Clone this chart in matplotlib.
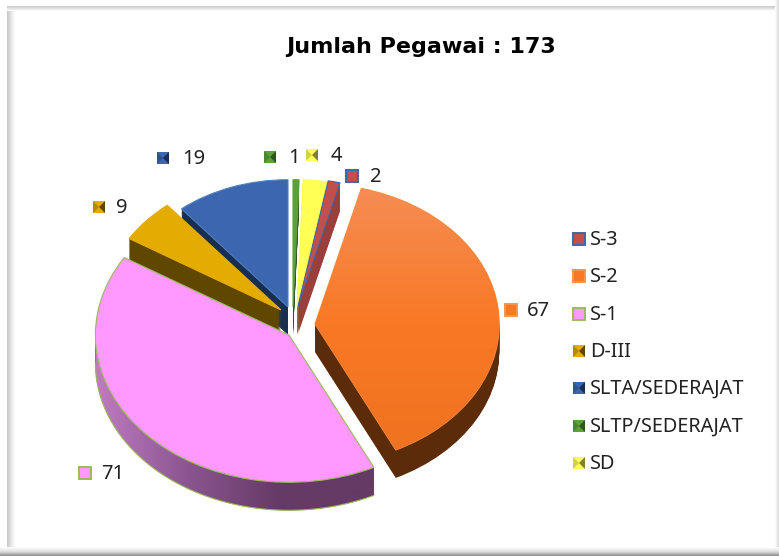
import numpy as np
import matplotlib
matplotlib.use("Agg")
import matplotlib.pyplot as plt
from matplotlib.colors import LinearSegmentedColormap
from matplotlib.patches import Polygon, Rectangle

categories = ["S-3", "S-2", "S-1", "D-III", "SLTA/SEDERAJAT", "SLTP/SEDERAJAT", "SD"]
values = [2, 67, 71, 9, 19, 1, 4]
title = "Jumlah Pegawai : 173"

# looks
top_colors = ["#C0504D", "#F97825", "#FF99FF", "#E5AC00", "#3C67B0", "#5DA03A", "#FFFF55"]
wall_colors = ["#9A3F3C", "#5C2C0A", "#653A65", "#5F4700", "#172E50", "#2E5520", "#808030"]
edge_colors = ["#3F66A8", "#F79646", "#9BBB59", "#E5AC00", "#4F81BD", "#5DA03A", "#FFFF55"]
key_darks = [None, None, None, "#5F4700", "#172E50", "#2E5520", "#808030"]
stack_order = [6, 7, 3, 2, 1, 4, 5]  # blue < gold < pink, green < yellow < red

# the 3d look squeezes the back slices, so each slice gets its own spot (pixels)
slice_cx = [298, 315, 289, 281, 288, 293, 297]
slice_cy = [306, 324, 335, 310, 307, 307, 307]
slice_r = [0.89, 0.98, 1.03, 0.95, 0.89, 0.89, 0.89]

# label spots in pixels
label_keys = [(352, 176), (511, 310), (85, 473), (99, 207), (163, 158), (270, 157), (312, 155)]
label_gap = [18, 16, 16, 17, 19, 18, 19]
legend_x = 579
legend_y = [239, 276, 314, 351, 388, 426, 463]

W, H = 779, 556
RX, RY = 188, 143
DEPTH = 28


def place(w, i, k=0):
    w.set_center((slice_cx[i] / RX, -(slice_cy[i] + k) / RY))
    w.set_radius(slice_r[i])
    w.set_zorder(stack_order[i] * 10 + (2 if k == 0 else 0))


plt.rcParams["font.family"] = ["Noto Sans", "DejaVu Sans"]
fig = plt.figure(figsize=(W / 100, H / 100), dpi=100, facecolor="white")
ax = fig.add_axes([0, 0, 1, 1])

start = 90 - (values[5] + values[6]) / sum(values) * 360

# walls: stack of pies pushed downwards
for k in range(DEPTH, 0, -1):
    parts, _ = ax.pie(values, startangle=start, counterclock=False, colors=wall_colors)
    for i, w in enumerate(parts):
        place(w, i, k)

tops, _ = ax.pie(values, startangle=start, counterclock=False, colors=top_colors,
                 wedgeprops={"linewidth": 0.8})
for i, w in enumerate(tops):
    w.set_edgecolor(edge_colors[i])
    place(w, i)

# S-1 outer wall shading
pink = tops[2]
t = np.radians(np.linspace(180, 296, 80))
xs = pink.center[0] + pink.r * np.cos(t)
ys = pink.center[1] + pink.r * np.sin(t)
wall_poly = Polygon(np.r_[np.c_[xs, ys], np.c_[xs, ys - DEPTH / RY][::-1]], closed=True,
                    transform=ax.transData, facecolor="none", edgecolor="none")
ax.add_patch(wall_poly)
cm_wall = LinearSegmentedColormap.from_list("w", ["#C07CC0", "#8A5590", "#653A65", "#653A65"])
im = ax.imshow(np.linspace(0, 1, 256)[None, :], cmap=cm_wall, aspect="auto",
               extent=(xs.min(), xs.max(), -4, 0), zorder=stack_order[2] * 10 + 1)
im.set_clip_path(wall_poly)
ax.plot(xs, ys - DEPTH / RY, color="#9BBB59", lw=0.8, zorder=stack_order[2] * 10 + 1)

# S-2 top shading
org = tops[1]
cm_top = LinearSegmentedColormap.from_list("o", ["#EE7220", "#F97825", "#F58E56"])
im2 = ax.imshow(np.linspace(0, 1, 256)[:, None], cmap=cm_top, aspect="auto", origin="lower",
                extent=(org.center[0], org.center[0] + 1.3, org.center[1] - 1, org.center[1] + 1),
                zorder=stack_order[1] * 10 + 3)
im2.set_clip_path(org)

ax.set_aspect("auto")
ax.set_xlim(0, W / RX)
ax.set_ylim(-H / RY, 0)
ax.axis("off")

# overlay in pixel units for frame, labels and legend
ov = fig.add_axes([0, 0, 1, 1], zorder=5)
ov.axis("off")
ov.patch.set_visible(False)

# soft picture frame
fade = np.linspace(0, 1, 32)
cm_l = LinearSegmentedColormap.from_list("l", ["#C8C8C8", "#FFFFFF"])
cm_b = LinearSegmentedColormap.from_list("b", ["#FFFFFF", "#E0E0E0", "#8E8E8E"])
cm_r = LinearSegmentedColormap.from_list("r", ["#FFFFFF", "#D8D8D8"])
ov.imshow(fade[None, :], cmap=cm_l, aspect="auto", extent=(7, 15, H - 6, 6))
ov.imshow(fade[:, None], cmap=cm_l, aspect="auto", origin="upper", extent=(7, W - 4, 11, 6))
ov.imshow(fade[None, :], cmap=cm_r, aspect="auto", extent=(W - 4, W, H, 0))
ov.imshow(fade[:, None], cmap=cm_b, aspect="auto", origin="upper", extent=(0, W, H, H - 9))
ov.set_xlim(0, W)
ov.set_ylim(H, 0)

ov.text(421, 47, title, fontsize=16, fontweight="bold", family="DejaVu Sans",
        ha="center", va="center", color="black")


def key(x, y, i, s=6):
    dark = key_darks[i]
    if dark is None:
        ov.add_patch(Rectangle((x - s, y - s), 2 * s, 2 * s, facecolor=top_colors[i],
                               edgecolor=edge_colors[i], lw=1.4))
        return
    ov.add_patch(Rectangle((x - s, y - s), 2 * s, 2 * s, facecolor=top_colors[i], edgecolor="none"))
    ov.add_patch(Polygon([(x, y), (x + s, y - s), (x + s, y + s)], facecolor=dark, edgecolor="none"))
    ov.add_patch(Polygon([(x, y), (x - s, y - s), (x - s, y + s)], facecolor=dark, edgecolor="none", alpha=0.35))


for i, v in enumerate(values):
    kx, ky = label_keys[i]
    key(kx, ky, i)
    ov.text(kx + label_gap[i], ky + 1, str(v), fontsize=14.5, ha="left", va="center", color="#222222")

for i, name in enumerate(categories):
    key(legend_x, legend_y[i], i)
    ov.text(legend_x + 11, legend_y[i] + 1, name, fontsize=14.3, ha="left", va="center", color="#222222")

fig.savefig("out.png", dpi=100)
